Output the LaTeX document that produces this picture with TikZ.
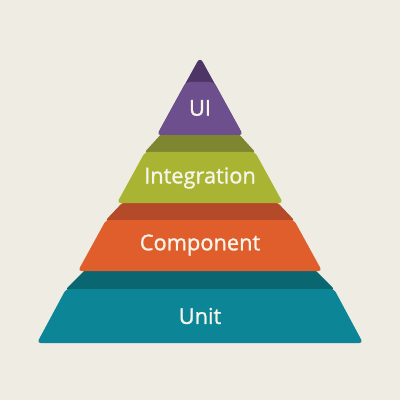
\documentclass[tikz,border=0pt]{standalone}
\usepackage{fontspec}
\newfontfamily\lblfont{Open Sans}[FakeBold=1.2]
\definecolor{bg}{HTML}{EFECE3}
\definecolor{uiL}{HTML}{6E4F8E}
\definecolor{uiD}{HTML}{4D3566}
\definecolor{inL}{HTML}{A9B532}
\definecolor{inD}{HTML}{7E8630}
\definecolor{coL}{HTML}{E05E2B}
\definecolor{coD}{HTML}{B44A2A}
\definecolor{unL}{HTML}{0C8696}
\definecolor{unD}{HTML}{0A6670}
\definecolor{txt}{HTML}{F7F4EC}
\tikzset{
  band/.style={rounded corners=2.5pt},
  lbl/.style={text=txt, font=\lblfont\fontsize{15.5}{15.5}\selectfont, inner sep=0pt}
}
\begin{document}
\begin{tikzpicture}[x=0.025cm,y=-0.025cm]
\fill[bg] (0,0) rectangle (400,400);
\useasboundingbox (0,0) rectangle (400,400);
% Unit
\fill[unD,band] (86,269) -- (65,290) -- (335,290) -- (314,269) -- cycle;
\fill[unL,band] (66,289) -- (37,343) -- (363,343) -- (334,289) -- cycle;
% Component
\fill[coD,band] (123,202) -- (105,221) -- (295,221) -- (277,202) -- cycle;
\fill[coL,band] (106,220) -- (78,271) -- (322,271) -- (294,220) -- cycle;
% Integration
\fill[inD,band] (163,132) -- (144,153) -- (256,153) -- (237,132) -- cycle;
\fill[inL,band] (145,152) -- (117,203) -- (283,203) -- (255,152) -- cycle;
% UI
\fill[uiD,rounded corners=4pt] (200,57) -- (157,135) -- (243,135) -- cycle;
\fill[uiL,band] (186,82) -- (157,135) -- (243,135) -- (214,82) -- cycle;
% labels
\node[lbl] (ui) at (200,108) {UI};
\node[lbl] (integration) at (200,178) {Integration};
\node[lbl] (component) at (200,245) {Component};
\node[lbl] (unit) at (200,316) {Unit};
\end{tikzpicture}
\end{document}
